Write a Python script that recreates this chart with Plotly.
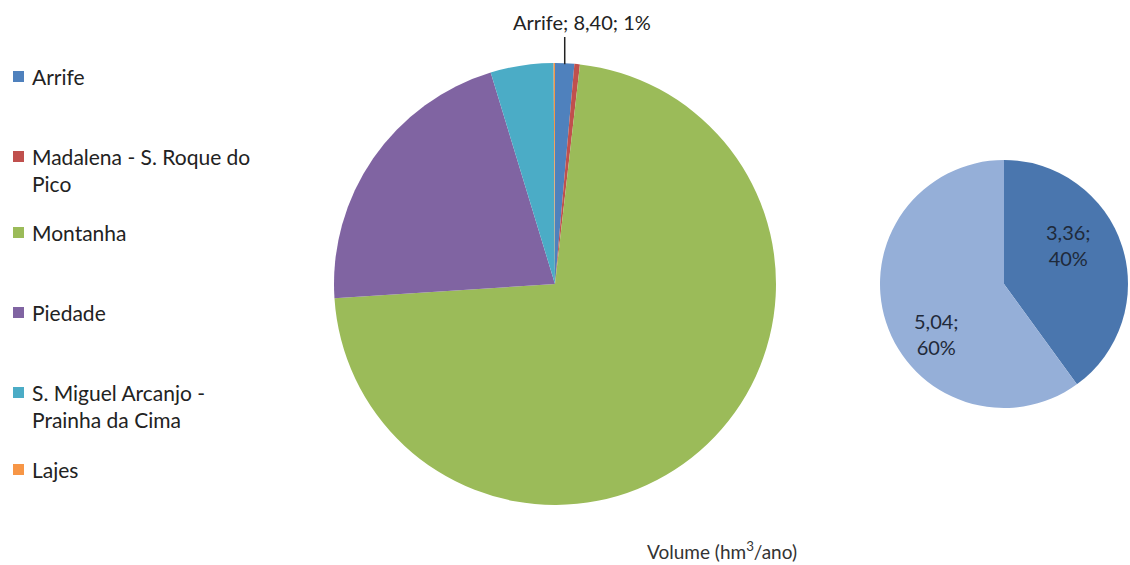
import math
import plotly.graph_objects as go

# Volume by aquifer system (hm3/ano)
sistemas = ["Arrife", "Madalena - S. Roque do Pico", "Montanha", "Piedade",
            "S. Miguel Arcanjo - Prainha da Cima", "Lajes"]
volumes = [8.40, 2.40, 433.0, 128.0, 27.6, 0.60]
cores = ["#4F81BD", "#C0504D", "#9BBB59", "#8064A2", "#4BACC6", "#F79646"]

# Breakdown of the Arrife volume
arrife_partes = [3.36, 5.04]
arrife_cores = ["#4A76AE", "#95AFD8"]

# Legend text (with manual line breaks)
legenda_texto = ["Arrife", "Madalena - S. Roque do<br>Pico", "Montanha", "Piedade",
                 "S. Miguel Arcanjo -<br>Prainha da Cima", "Lajes"]

W, H = 1130, 565
FONT = "Lato"
TXT = "#222222"


def px(x):
    return x / W


def py(y):
    return 1 - y / H


def fmt(v):
    return f"{v:.2f}".replace(".", ",")


# main pie geometry (pixels)
cx, cy, r = 555, 284, 221
# small pie geometry (pixels)
cx2, cy2, r2 = 1004, 284, 124

fig = go.Figure()

fig.add_trace(go.Pie(
    labels=sistemas, values=volumes, sort=False, direction="clockwise", rotation=0,
    marker=dict(colors=cores, line=dict(width=0)),
    textinfo="none", hoverinfo="label+value+percent", showlegend=False,
    domain=dict(x=[px(cx - r), px(cx + r)], y=[py(cy + r), py(cy - r)]),
))

total_arrife = sum(arrife_partes)
fig.add_trace(go.Pie(
    labels=["Parte 1", "Parte 2"], values=arrife_partes, sort=False,
    direction="clockwise", rotation=0,
    marker=dict(colors=arrife_cores, line=dict(width=0)),
    textinfo="none", showlegend=False, hoverinfo="value+percent",
    domain=dict(x=[px(cx2 - r2), px(cx2 + r2)], y=[py(cy2 + r2), py(cy2 - r2)]),
))

annotations = []
shapes = []

# Data labels inside the small pie
label_pos = [(1068, 245), (936, 334)]
for v, (lxp, lyp) in zip(arrife_partes, label_pos):
    annotations.append(dict(
        text=f"{fmt(v)};<br>{round(100 * v / total_arrife)}%", xref="paper", yref="paper",
        x=px(lxp), y=py(lyp), showarrow=False, xanchor="center", yanchor="middle",
        align="center", font=dict(family=FONT, size=20, color="#1F2A3A")))

# Leader line and label for the Arrife slice, placed at the slice's mid angle
total = sum(volumes)
theta = math.radians(360 * (volumes[0] / total) / 2)
lx = cx + r * math.sin(theta)
ly = cy - r * math.cos(theta)
shapes.append(dict(type="line", xref="paper", yref="paper",
                   x0=px(lx), x1=px(lx), y0=py(ly + 1), y1=py(37),
                   line=dict(color="#222222", width=1.5)))
pct = round(100 * volumes[0] / total)
annotations.append(dict(text=f"Arrife; {fmt(volumes[0])}; {pct}%", xref="paper", yref="paper",
                        x=px(582), y=py(22), showarrow=False, xanchor="center", yanchor="middle",
                        font=dict(family=FONT, size=20, color=TXT)))

# Manual legend
leg_y = [77, 157, 233, 313, 393, 470]
for texto, cor, yy in zip(legenda_texto, cores, leg_y):
    shapes.append(dict(type="rect", xref="paper", yref="paper",
                       x0=px(13), x1=px(24), y0=py(yy + 5), y1=py(yy - 6),
                       fillcolor=cor, line=dict(width=0)))
    annotations.append(dict(text=texto, xref="paper", yref="paper", x=px(30), y=py(yy - 15),
                            xanchor="left", yanchor="top", align="left", showarrow=False,
                            font=dict(family=FONT, size=21, color=TXT)))

# Axis-style caption
annotations.append(dict(text="Volume (hm<sup>3</sup>/ano)", xref="paper", yref="paper",
                        x=px(722), y=py(550), showarrow=False, xanchor="center", yanchor="middle",
                        font=dict(family=FONT, size=19, color="#333333")))

fig.update_layout(
    width=W, height=H, margin=dict(l=0, r=0, t=0, b=0),
    paper_bgcolor="white", plot_bgcolor="white",
    annotations=annotations, shapes=shapes, showlegend=False,
)

fig.write_html("out.html")
